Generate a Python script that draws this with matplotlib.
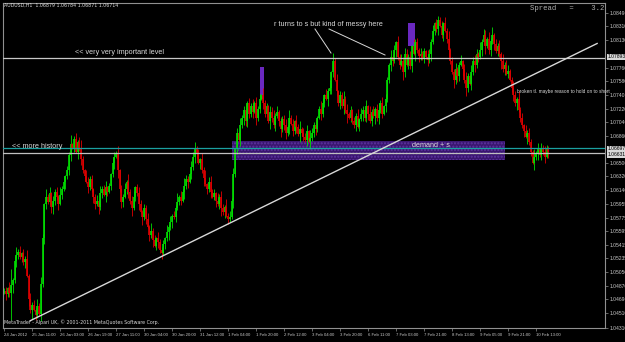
import matplotlib.pyplot as plt
import numpy as np
from matplotlib.patches import Rectangle

# price data in pips above the base price, one value per H1 bar
BASE = 1.0400
first_open = 78
close_pips = [
    80, 76, 84, 78, 88, 95, 120, 128, 132, 125,
    130, 118, 122, 100, 70, 55, 62, 55, 48, 60,
    50, 90, 150, 195, 205, 198, 210, 192, 200, 212,
    205, 196, 208, 215, 225, 232, 240, 260, 275, 270,
    282, 265, 278, 270, 255, 240, 232, 225, 218, 228,
    215, 205, 195, 200, 192, 210, 215, 208, 218, 212,
    220, 235, 250, 258, 262, 240, 215, 198, 205, 215,
    225, 212, 200, 190, 205, 218, 210, 195, 185, 178,
    190, 175, 165, 155, 160, 148, 140, 150, 145, 135,
    130, 142, 150, 158, 165, 172, 180, 178, 190, 198,
    205, 200, 212, 220, 228, 225, 235, 245, 258, 268,
    262, 250, 255, 240, 230, 222, 215, 225, 212, 205,
    210, 200, 195, 205, 190, 185, 192, 180, 175, 178,
    200, 235, 268, 290, 280, 300, 310, 320, 305, 330,
    315, 325, 318, 330, 310, 322, 335, 340, 330, 315,
    325, 305, 318, 310, 300, 312, 318, 305, 295, 308,
    300, 290, 298, 310, 302, 292, 305, 298, 288, 295,
    290, 285, 280, 292, 278, 283, 290, 300, 295, 310,
    322, 315, 330, 340, 335, 345, 350, 370, 385, 360,
    345, 330, 340, 325, 335, 320, 315, 310, 320, 305,
    300, 312, 298, 308, 315, 320, 310, 325, 315, 305,
    318, 312, 322, 310, 320, 330, 315, 325, 335, 360,
    380, 390, 385, 400, 410, 390, 380, 385, 370, 395,
    380, 390, 378, 405, 395, 410, 400, 392, 395, 388,
    398, 390, 386, 395, 410, 425, 435, 428, 440, 432,
    420, 435, 425, 415, 400, 385, 370, 360, 375, 365,
    380, 385, 375, 360, 350, 365, 355, 370, 385, 380,
    395, 390, 400, 410, 420, 405, 415, 400, 412, 420,
    408, 398, 405, 395, 385, 375, 380, 368, 372, 360,
    350, 340, 330, 335, 320, 310, 300, 292, 285, 290,
    278, 265, 250, 258, 262, 268, 260, 270, 265, 258,
    268, 265,
]
# wick lengths (x2 pips) above / below the body
up_wick = ("2314213524" "1326142315" "2431524132" "3152413261" "2413521432"
           "3124152341" "2143251324" "1523412431" "3241523142" "2315241326"
           "1425321435" "2314251342" "3152431524" "2413152341" "3251423152"
           "2143524132" "3415231425" "1324153241" "2531425132" "4132524131"
           "3251432415" "2413524132" "1523142534" "3241523142" "2153241352"
           "3142513241" "2413521534" "3152431425" "1324152341" "2431523142"
           "3215241324" "3214251324")
down_wick = ("1423152431" "3241526132" "1524312453" "2413152341" "3152423142"
             "2431523153" "1324152431" "3425132415" "2314251342" "4132524131"
             "2315241324" "3142513241" "2413524132" "1523142534" "3241523142"
             "2153241352" "3425132415" "2314152342" "1423152431" "3241526132"
             "2413152341" "3152423142" "2431523153" "1324152431" "3142513241"
             "2413521534" "3152431425" "2314251342" "4132524131" "3425132415"
             "2315241324" "1423152431")
high_fix = {4: 109, 188: 396, 248: 445}
low_fix = {4: 41, 19: 44, 264: 339}

x_tick_bars = list(range(0, 320, 16))
x_tick_labels = ["24 Jan 2012", "25 Jan 11:00", "26 Jan 03:00", "26 Jan 19:00",
                 "27 Jan 11:00", "30 Jan 04:00", "30 Jan 20:00", "31 Jan 12:00",
                 "1 Feb 04:00", "1 Feb 20:00", "2 Feb 12:00", "3 Feb 04:00",
                 "3 Feb 20:00", "6 Feb 11:00", "7 Feb 03:00", "7 Feb 21:00",
                 "8 Feb 13:00", "9 Feb 05:00", "9 Feb 21:00", "10 Feb 13:00"]
y_tick_values = [1.08490, 1.08310, 1.08130, 1.07760, 1.07580, 1.07400, 1.07220,
                 1.07040, 1.06860, 1.06500, 1.06320, 1.06140, 1.05955, 1.05775,
                 1.05595, 1.05415, 1.05235, 1.05050, 1.04870, 1.04690, 1.04510,
                 1.04310]

level_main = 1.07893
level_cyan = 1.06697
level_grey = 1.06631
band_bars = (130.3, 286.3)
band_prices = (1.06540, 1.06788)
marker_boxes = [(146.5, 2.3, 1.07351, 1.07770), (230.9, 3.8, 1.08045, 1.08359)]
trend_pts = [(14.9, 1.04406), (338.9, 1.08084)]

W, H = 625, 342
def fx(x):
    return x / W
def fy(y):
    return 1 - y / H

n = len(close_pips)
closes = BASE + np.array(close_pips) / 10000.0
opens = np.concatenate([[BASE + first_open / 10000.0], closes[:-1]])
ups = np.array([int(c) for c in up_wick[:n]]) * 2 / 10000.0
dns = np.array([int(c) for c in down_wick[:n]]) * 2 / 10000.0
highs = np.maximum(opens, closes) + ups
lows = np.minimum(opens, closes) - dns
for k, v in high_fix.items():
    highs[k] = BASE + v / 10000.0
for k, v in low_fix.items():
    lows[k] = BASE + v / 10000.0
xs = np.arange(n)
bull = closes >= opens
cols = np.where(bull, '#00e000', '#e00000')

fig = plt.figure(figsize=(W / 100, H / 100), dpi=100, facecolor='black')
ax = fig.add_axes([fx(3), fy(328), (605 - 3) / W, (328 - 3) / H])
ax.set_facecolor('black')

ax.add_patch(Rectangle((band_bars[0], band_prices[0]), band_bars[1] - band_bars[0],
                       band_prices[1] - band_prices[0], facecolor='#3a1670',
                       edgecolor='#5e34a0', hatch='.....', lw=0, zorder=1))
for b0, bw, p0, p1 in marker_boxes:
    ax.add_patch(Rectangle((b0, p0), bw, p1 - p0, facecolor='#6a28c0', lw=0, zorder=1))

ax.vlines(xs, lows, highs, colors=cols, lw=0.6, zorder=2)
ax.vlines(xs, opens, closes, colors=cols, lw=1.2, zorder=2)

ax.axhline(level_main, color='#c8c8c8', lw=0.9, zorder=3)
ax.axhline(level_cyan, color='#1aa0a0', lw=0.9, zorder=3)
ax.axhline(level_grey, color='#c0c0c0', lw=0.9, zorder=3)
ax.plot([p[0] for p in trend_pts], [p[1] for p in trend_pts], color='#d8d8d8', lw=1.0, zorder=3)

ax.set_xlim(-0.6, 343.4)
ax.set_ylim(1.04367, 1.08621)
for s in ax.spines.values():
    s.set_color('#909090')
    s.set_linewidth(0.8)

ax.yaxis.tick_right()
ax.set_yticks(y_tick_values)
ax.set_yticklabels(['%.5f' % v for v in y_tick_values], family='Liberation Sans')
ax.tick_params(axis='y', colors='#909090', labelcolor='#c8c8c8', labelsize=3.6,
               length=2, width=0.5, pad=1.5)
ax.set_xticks(x_tick_bars)
ax.set_xticklabels(x_tick_labels, ha='left', family='Liberation Sans')
ax.tick_params(axis='x', colors='#909090', labelcolor='#c8c8c8', labelsize=3.1,
               length=2, width=0.5, pad=1.5)

# price labels on the right for the horizontal lines
for lvl, yy in [(level_main, 57), (level_cyan, 149), (level_grey, 155)]:
    fig.text(fx(608), fy(yy), '%.5f' % lvl, fontsize=3.6, color='black', va='center',
             ha='left', family='Liberation Sans',
             bbox=dict(boxstyle='square,pad=0.15', fc='#d8d8d8', ec='none'))

tc = '#d8d8d8'
fig.text(fx(4), fy(5), 'AUDUSD,H1  1.06879 1.06784 1.06871 1.06714', fontsize=3.4,
         color=tc, va='center')
fig.text(fx(530), fy(9), 'Spread   =    3.2', fontsize=5.2, color='#b0b0b0',
         family='Liberation Mono', va='center')
fig.text(fx(75), fy(52), '<< very very important level', fontsize=5.2, color=tc,
         family='Liberation Sans', va='center')
fig.text(fx(12), fy(147), '<< more history', fontsize=5.2, color=tc,
         family='Liberation Sans', va='center')
fig.text(fx(274), fy(24), 'r turns to s but kind of messy here', fontsize=5.2, color=tc,
         family='Liberation Sans', va='center')
fig.text(fx(412), fy(145), 'demand + s', fontsize=5.2, color=tc,
         family='Liberation Sans', va='center')
fig.text(fx(517), fy(91), 'broken tl. maybe reason to hold on to short', fontsize=3.4,
         color=tc, family='Liberation Sans', va='center')
fig.text(fx(4), fy(322), 'MetaTrader - Alpari UK, \u00a9 2001-2011 MetaQuotes Software Corp.',
         fontsize=3.4, color=tc, va='center')
fig.add_artist(plt.Line2D([fx(315), fx(331)], [fy(29), fy(53)], color=tc, lw=0.7))
fig.add_artist(plt.Line2D([fx(329), fx(385)], [fy(29), fy(55)], color=tc, lw=0.7))

fig.savefig('out.png', dpi=100, facecolor='black')
